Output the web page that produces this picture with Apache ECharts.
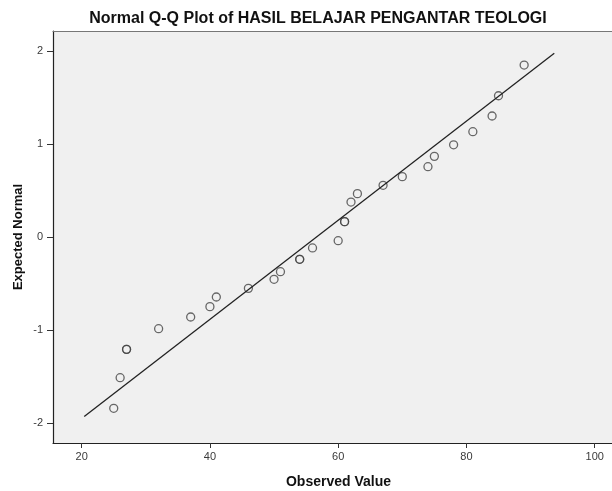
<!DOCTYPE html>
<html>
<head>
<meta charset="utf-8">
<script src="https://cdn.jsdelivr.net/npm/echarts@6/dist/echarts.min.js"></script>
<style>
  html, body { margin: 0; padding: 0; background: #ffffff; }
  #chart { width: 612px; height: 491px; }
</style>
</head>
<body>
<div id="chart"></div>
<script>
var observed = [25, 26, 27, 27, 32, 37, 40, 41, 46, 50, 51, 54, 54, 56, 60, 61, 61, 62, 63, 67, 70, 74, 75, 78, 81, 84, 85, 89];
var expected = [-1.842, -1.513, -1.208, -1.208, -0.986, -0.860, -0.749, -0.645, -0.552, -0.455, -0.373, -0.240, -0.240, -0.118, -0.040, 0.165, 0.165, 0.376, 0.466, 0.556, 0.649, 0.756, 0.867, 0.991, 1.132, 1.301, 1.519, 1.849];

// reference line ends (normal line)
var lineX = [20.4, 93.7];
var lineY = [-1.93, 1.975];

var xTicks = [20, 40, 60, 80, 100];
var yTicks = [-2, -1, 0, 1, 2];

var points = [];
for (var i = 0; i < observed.length; i++) {
    points.push([observed[i], expected[i]]);
}
var linePts = [[lineX[0], lineY[0]], [lineX[1], lineY[1]]];

var myChart = echarts.init(document.getElementById('chart'));
var fontFam = '"Liberation Sans", Arial, sans-serif';

myChart.setOption({
    animation: false,
    backgroundColor: '#ffffff',
    title: {
        text: 'Normal Q-Q Plot of HASIL BELAJAR PENGANTAR TEOLOGI',
        left: 313,
        textAlign: 'center',
        top: 6,
        textStyle: {
            fontFamily: fontFam,
            fontSize: 16,
            fontWeight: 'bold',
            color: '#111'
        }
    },
    grid: {
        left: 53,
        top: 31,
        right: 0,
        bottom: 48,
        show: true,
        backgroundColor: '#f0f0f0',
        borderWidth: 0,
        containLabel: false,
        outerBoundsMode: 'none'
    },
    xAxis: [{
        type: 'value',
        min: 15.53,
        max: 102.7,
        name: 'Observed Value',
        nameLocation: 'middle',
        nameGap: 32,
        nameMoveOverlap: false,
        nameTextStyle: {
            fontFamily: fontFam,
            fontSize: 14,
            fontWeight: 'bold',
            color: '#111',
            padding: [0, 0, 0, 12]
        },
        splitLine: { show: false },
        axisLine: { show: true, onZero: false, lineStyle: { color: '#222', width: 1.2 } },
        axisTick: { show: true, length: 5, customValues: xTicks, lineStyle: { color: '#333' } },
        axisLabel: {
            customValues: xTicks,
            margin: 8,
            fontFamily: fontFam,
            fontSize: 11,
            color: '#3a3a3a'
        }
    }, {
        type: 'value',
        position: 'top',
        min: 15.53,
        max: 102.7,
        splitLine: { show: false },
        axisLine: { show: true, onZero: false, lineStyle: { color: '#777', width: 1.2 } },
        axisTick: { show: false },
        axisLabel: { show: false }
    }],
    yAxis: {
        type: 'value',
        min: -2.215,
        max: 2.215,
        name: 'Expected Normal',
        nameLocation: 'middle',
        nameRotate: 90,
        nameGap: 28,
        nameMoveOverlap: false,
        nameTextStyle: {
            fontFamily: fontFam,
            fontSize: 13,
            fontWeight: 'bold',
            color: '#111'
        },
        splitLine: { show: false },
        axisLine: { show: true, onZero: false, lineStyle: { color: '#222', width: 1.2 } },
        axisTick: { show: true, length: 6, customValues: yTicks, lineStyle: { color: '#333' } },
        axisLabel: {
            customValues: yTicks,
            margin: 10,
            fontFamily: fontFam,
            fontSize: 11,
            color: '#3a3a3a'
        }
    },
    series: [
        {
            type: 'line',
            data: linePts,
            showSymbol: false,
            silent: true,
            lineStyle: { color: '#222', width: 1.3 }
        },
        {
            type: 'scatter',
            data: points,
            symbol: 'circle',
            symbolSize: 8,
            itemStyle: {
                color: 'rgba(0,0,0,0)',
                borderColor: '#444',
                borderWidth: 1.3
            }
        }
    ]
});
</script>
</body>
</html>
